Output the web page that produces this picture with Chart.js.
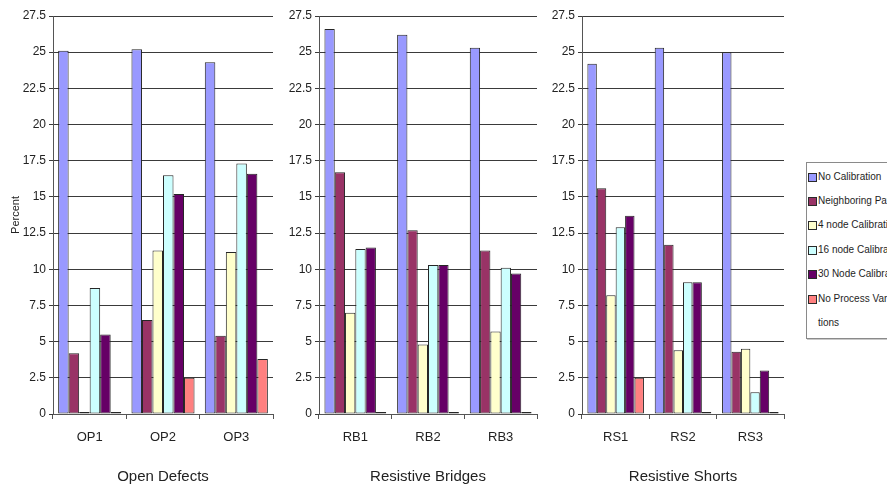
<!DOCTYPE html>
<html>
<head>
<meta charset="utf-8">
<script src="https://cdn.jsdelivr.net/npm/chart.js@4.4.1/dist/chart.umd.min.js"></script>
<style>
  html, body { margin: 0; padding: 0; background: #fff; }
  body { position: relative; width: 887px; height: 489px; overflow: hidden; }
  .panel { position: absolute; top: 0; }
  #legend {
    position: absolute; left: 806px; top: 162px; width: 110px; height: 175px;
    border: 1px solid #8a8a8a; box-shadow: 1px 1px 0 #c8c8c8; background: #fff;
    font-family: "Liberation Sans", Arial, sans-serif;
    font-size: 10px; color: #1e1e1e;
  }
  .row { position: absolute; left: 1px; white-space: pre; line-height: 24px; }
  .sw { position: absolute; left: 0; top: 8px; width: 7px; height: 7px; border: 1px solid #2a2a2a; }
  .txt { position: absolute; left: 10px; top: 0; }
</style>
</head>
<body>
<canvas id="c0" class="panel" width="280" height="489" style="left:0px"></canvas>
<canvas id="c1" class="panel" width="265" height="489" style="left:280px"></canvas>
<canvas id="c2" class="panel" width="245" height="489" style="left:545px"></canvas>
<div id="legend"></div>
<script>
// Defect groups, one panel each
const panelTitles = ['Open Defects', 'Resistive Bridges', 'Resistive Shorts'];
const panelCategories = [
  ['OP1', 'OP2', 'OP3'],
  ['RB1', 'RB2', 'RB3'],
  ['RS1', 'RS2', 'RS3']
];

// Percent of paths per calibration scheme, [panel][category]
const noCalibration     = [[25.1, 25.2, 24.3], [26.6, 26.2, 25.3], [24.2, 25.3, 25.0]];
const neighboringPaths  = [[4.2, 6.5, 5.4],    [16.7, 12.7, 11.3], [15.6, 11.7, 4.3]];
const node4Calibration  = [[0.1, 11.3, 11.2],  [7.0, 4.8, 5.7],    [8.2, 4.4, 4.5]];
const node16Calibration = [[8.7, 16.5, 17.3],  [11.4, 10.3, 10.1], [12.9, 9.1, 1.5]];
const node30Calibration = [[5.5, 15.2, 16.6],  [11.5, 10.3, 9.7],  [13.7, 9.1, 3.0]];
const noProcessVariations = [[0.1, 2.5, 3.8],  [0.1, 0.1, 0.1],    [2.5, 0.05, 0.05]];

const seriesLabels = ['No Calibration', 'Neighboring Paths', '4 node Calibration',
  '16 node Calibration', '30 Node Calibration', 'No Process Varia-\ntions'];
const seriesColors = ['#9999ff', '#993366', '#ffffcc', '#ccffff', '#660066', '#ff8080'];
const seriesValues = [noCalibration, neighboringPaths, node4Calibration,
  node16Calibration, node30Calibration, noProcessVariations];

const yTickValues = [0, 2.5, 5, 7.5, 10, 12.5, 15, 17.5, 20, 22.5, 25, 27.5];

// Per-panel frame: y-axis band width, right padding, bar group share
const yAxisWidths = [53, 39, 37];
const rightPads = [7, 8, 6];
const groupShare = [0.86, 0.85, 0.84];

const FONT = '"Liberation Sans", Arial, sans-serif';
Chart.defaults.font.family = FONT;
Chart.defaults.color = '#222';

function buildPanel(idx) {
  const datasets = seriesValues.map((vals, s) => ({
    label: seriesLabels[s],
    data: vals[idx],
    backgroundColor: seriesColors[s],
    borderColor: '#262626',
    borderWidth: 1,
    borderSkipped: false,
    minBarLength: 2,
    categoryPercentage: groupShare[idx],
    barPercentage: 1.0
  }));

  return new Chart(document.getElementById('c' + idx), {
    type: 'bar',
    data: { labels: panelCategories[idx], datasets },
    options: {
      responsive: false,
      animation: false,
      devicePixelRatio: 1,
      layout: { padding: { top: 16, right: rightPads[idx], bottom: 0, left: 0 } },
      plugins: { legend: { display: false }, tooltip: { enabled: false } },
      scales: {
        x: {
          grid: { drawOnChartArea: false, drawTicks: true, tickLength: 5, offset: true, color: '#555' },
          border: { color: '#555', width: 1 },
          ticks: { font: { size: 13 }, color: '#222', padding: 11 },
          title: { display: true, text: panelTitles[idx], font: { size: 15 }, color: '#222',
                   padding: { top: 0, bottom: 3 } },
          afterFit(s) { s.height = 75; s.paddingLeft = 0; s.paddingRight = 0; }
        },
        y: {
          min: 0, max: 27.5,
          afterBuildTicks(s) { s.ticks = yTickValues.map(v => ({ value: v })); },
          ticks: { font: { size: 12 }, color: '#222', padding: 3,
                   callback: v => String(v) },
          grid: { color: '#3a3a3a', lineWidth: 1, tickLength: 4 },
          border: { color: '#555', width: 1 },
          title: { display: idx === 0, text: 'Percent', font: { size: 11 }, color: '#222',
                   padding: { top: 9, bottom: 0 } },
          afterFit(s) { s.width = yAxisWidths[idx]; s.paddingTop = 0; s.paddingBottom = 0; }
        }
      }
    }
  });
}

[0, 1, 2].forEach(buildPanel);

// Series key on the right
const legend = document.getElementById('legend');
const rowCentres = [14, 38, 62, 87, 111, 136];
seriesLabels.forEach((name, s) => {
  const row = document.createElement('div');
  row.className = 'row';
  row.style.top = (rowCentres[s] - 12) + 'px';
  const sw = document.createElement('div');
  sw.className = 'sw';
  sw.style.background = seriesColors[s];
  const txt = document.createElement('div');
  txt.className = 'txt';
  txt.textContent = name;
  row.appendChild(sw);
  row.appendChild(txt);
  legend.appendChild(row);
});
</script>
</body>
</html>
